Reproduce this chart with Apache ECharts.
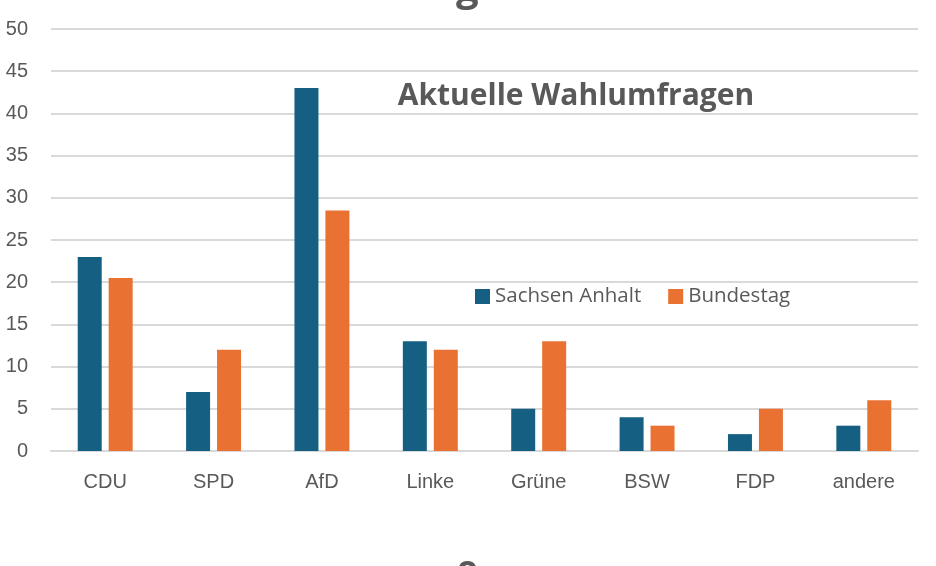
<!DOCTYPE html>
<html lang="de">
<head>
    <meta charset="UTF-8">
    <title>Aktuelle Wahlumfragen</title>
    <script src="https://cdn.jsdelivr.net/npm/echarts@6/dist/echarts.min.js"></script>
    <style>
        * { margin: 0; padding: 0 }
        html, body { width: 100%; height: 100%; background: #fff }
        #main { width: 936px; height: 566px }
    </style>
</head>
<body>
    <div id="main"></div>
    <script type="text/javascript">
        var parteien = ['CDU', 'SPD', 'AfD', 'Linke', 'Grüne', 'BSW', 'FDP', 'andere'];
        var sachsenAnhalt = [23, 7, 43, 13, 5, 4, 2, 3];
        var bundestag = [20.5, 12, 28.5, 12, 13, 3, 5, 6];

        var grau = '#595959';
        var myChart = echarts.init(document.getElementById('main'));
        var option = {
            backgroundColor: '#fff',
            animation: false,
            title: {
                text: 'Aktuelle Wahlumfragen',
                left: 571,
                top: 76,
                textAlign: 'center',
                textStyle: {
                    fontFamily: 'Open Sans',
                    fontWeight: 'bold',
                    fontSize: 30,
                    color: grau
                }
            },
            legend: {
                left: 470,
                top: 281,
                itemWidth: 15,
                itemHeight: 15,
                itemGap: 27,
                icon: 'rect',
                textStyle: {
                    fontFamily: 'Open Sans',
                    fontSize: 20.5,
                    color: grau
                }
            },
            grid: {
                left: 51,
                right: 18,
                top: 29,
                bottom: 115
            },
            xAxis: {
                type: 'category',
                data: parteien,
                axisTick: { show: false },
                axisLine: { lineStyle: { color: '#d9d9d9', width: 2 } },
                axisLabel: {
                    fontFamily: 'Liberation Sans',
                    fontSize: 20,
                    color: grau,
                    margin: 21
                }
            },
            yAxis: {
                type: 'value',
                min: 0,
                max: 50,
                interval: 5,
                axisLabel: {
                    fontFamily: 'Liberation Sans',
                    fontSize: 20,
                    color: grau,
                    margin: 23
                },
                splitLine: { lineStyle: { color: '#d9d9d9', width: 2 } }
            },
            series: [{
                    name: 'Sachsen Anhalt',
                    type: 'bar',
                    data: sachsenAnhalt,
                    barWidth: 24,
                    barGap: '29%',
                    itemStyle: { color: '#156082' }
                },
                {
                    name: 'Bundestag',
                    type: 'bar',
                    data: bundestag,
                    barWidth: 24,
                    itemStyle: { color: '#E97132' }
                }
            ],
            graphic: [{
                    // angeschnittene Buchstaben am oberen und unteren Rand
                    type: 'text',
                    left: 456,
                    top: -30,
                    style: {
                        text: 'g',
                        font: 'bold 40px "Open Sans"',
                        fill: grau
                    }
                },
                {
                    type: 'text',
                    left: 457,
                    top: 553,
                    style: {
                        text: 'o',
                        font: 'bold 34px "Open Sans"',
                        fill: grau
                    }
                }
            ]
        };
        myChart.setOption(option);
    </script>
</body>
</html>
